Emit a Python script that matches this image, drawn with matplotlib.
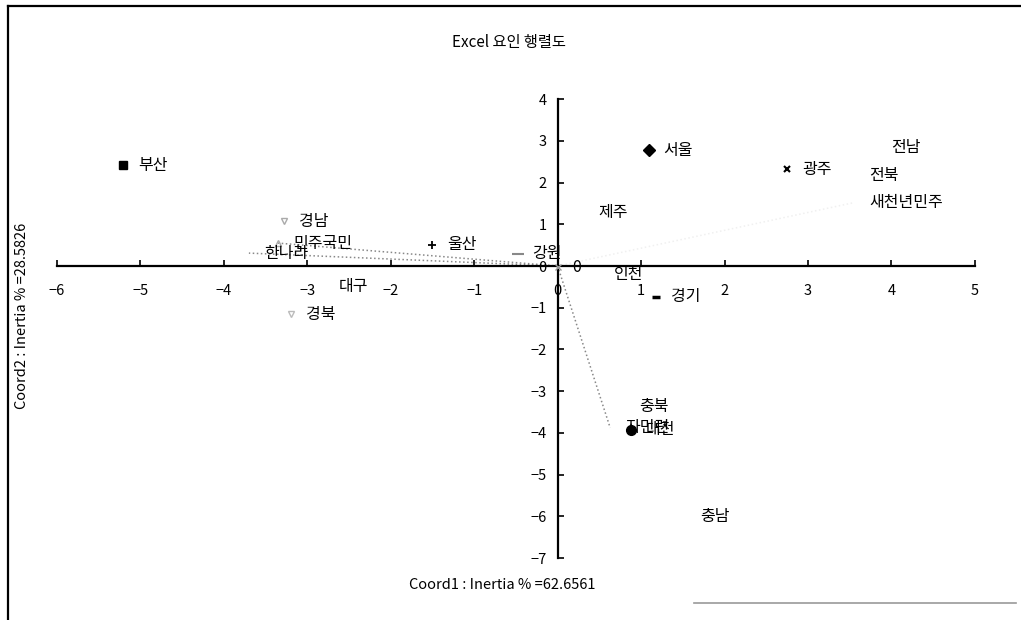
import matplotlib.pyplot as plt
from matplotlib.lines import Line2D

plt.rcParams['font.family'] = ['Noto Sans CJK KR', 'DejaVu Sans']

# region (province) coordinates
regions = ['부산', '서울', '광주', '경남', '울산', '강원', '경북', '경기', '대전',
           '대구', '인천', '제주', '충북', '충남', '전남', '전북', '0']
region_x = [-5.21, 1.09, 2.75, -3.28, -1.50, -0.48, -3.19, 1.18, 0.88,
            -2.80, 0.49, 0.31, 0.80, 1.53, 3.82, 3.55, 0.00]
region_y = [2.42, 2.78, 2.32, 1.07, 0.51, 0.29, -1.15, -0.74, -3.92,
            -0.50, -0.20, 1.29, -3.37, -6.00, 2.85, 2.18, -0.03]

# party coordinates
parties = ['한나라', '민주국민', '새천년민주', '자민련']
party_x = [-3.70, -3.35, 3.55, 0.63]
party_y = [0.31, 0.55, 1.52, -3.88]

x_ticks = [-6, -5, -4, -3, -2, -1, 0, 1, 2, 3, 4, 5]
y_ticks = [-7, -6, -5, -4, -3, -2, -1, 0, 1, 2, 3, 4]

title = 'Excel 요인 행렬도'
x_label = 'Coord1 : Inertia % =62.6561'
y_label = 'Coord2 : Inertia % =28.5826'

# marker style per region (None = no visible marker)
marker_style = {
    '부산': dict(marker='s', color='black', ms=5.5),
    '서울': dict(marker='D', color='black', ms=6),
    '광주': dict(marker='x', color='black', ms=5, mew=1.5),
    '경남': dict(marker='v', mfc='none', mec='#aaaaaa', ms=5),
    '울산': dict(marker='+', color='black', ms=6, mew=1.3),
    '강원': dict(marker='_', color='#888888', ms=8, mew=1.5),
    '경북': dict(marker='v', mfc='none', mec='#bbbbbb', ms=4),
    '경기': dict(marker='_', color='black', ms=6, mew=2.5),
    '대전': dict(marker='o', color='black', ms=7),
    '0': dict(marker='x', color='#999999', ms=4),
}

fig = plt.figure(figsize=(10.21, 6.2), dpi=100)
ax = fig.add_axes([0.0558, 0.100, 0.899, 0.740])

# dotted lines from origin to party points
for name, px, py in zip(parties, party_x, party_y):
    col = '#f0f0f0' if name == '새천년민주' else '#888888'
    ax.plot([0, px], [0, py], linestyle=':', color=col, lw=1.1, zorder=1)
ax.plot(party_x[1], party_y[1], marker='^', mfc='none', mec='#aaaaaa', ms=5, ls='none')

for name, x, y in zip(regions, region_x, region_y):
    st = marker_style.get(name)
    if st:
        ax.plot(x, y, ls='none', zorder=3, **st)
    ax.annotate(name, (x, y), xytext=(15, 0), textcoords='offset pixels',
                ha='left', va='center', fontsize=11.5, color='black', zorder=4)

for name, x, y in zip(parties, party_x, party_y):
    ax.annotate(name, (x, y), xytext=(15, 0), textcoords='offset pixels',
                ha='left', va='center', fontsize=11.5, color='black', zorder=4)

ax.set_xlim(-6, 5)
ax.set_ylim(-7, 4)
ax.set_xticks(x_ticks)
ax.set_yticks(y_ticks)
ax.spines['left'].set_position(('data', 0))
ax.spines['bottom'].set_position(('data', 0))
ax.spines['top'].set_visible(False)
ax.spines['right'].set_visible(False)
ax.spines['left'].set_linewidth(1.6)
ax.spines['bottom'].set_linewidth(1.6)
ax.tick_params(axis='x', direction='in', length=4, width=1.2, pad=13, labelsize=10.5)
ax.tick_params(axis='y', direction='in', length=4, width=1.2, pad=8, labelsize=10.5)

fig.text(0.498, 0.932, title, ha='center', va='center', fontsize=11)
fig.text(0.492, 0.056, x_label, ha='center', va='center', fontsize=10.5)
fig.text(0.022, 0.49, y_label, ha='center', va='center', rotation=90, fontsize=10.5)

# scanned frame
fig.add_artist(Line2D([8/1021, 8/1021], [0, 1 - 6/620], color='black', lw=1.6,
                      transform=fig.transFigure))
fig.add_artist(Line2D([8/1021, 1], [1 - 6/620, 1 - 6/620], color='black', lw=1.6,
                      transform=fig.transFigure))
fig.add_artist(Line2D([694/1021, 1016/1021], [1 - 603/620, 1 - 603/620],
                      color='#999999', lw=1.2, transform=fig.transFigure))

fig.savefig('out.png', dpi=100)
